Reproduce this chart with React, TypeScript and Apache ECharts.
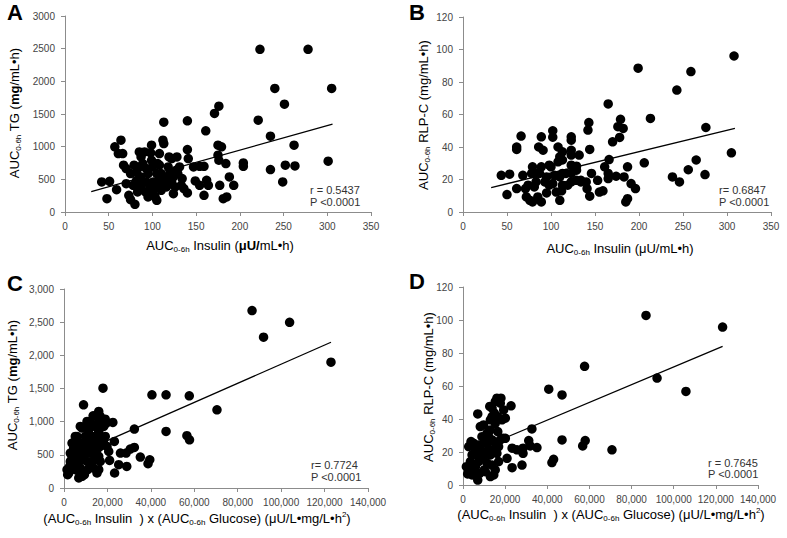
import React, { useEffect, useRef } from "react";
import * as echarts from "echarts";

// ---------- Data ----------
const xTicksInsulin = [0, 50, 100, 150, 200, 250, 300, 350];
const xTicksProduct = [0, 20000, 40000, 60000, 80000, 100000, 120000, 140000];

const pointsA: number[][] = [
  [223,2490],[278,2490],[305,1891],[240,1891],[251,1651],[221,1405],[235,1160],[262,1022],[301,777],[235,649],[252,716],[263,705],[249,460],[204,751],[204,700],
  [176,1620],[171,1508],[140,1395],[113,1375],[161,1242],[175,1022],[179,997],[140,956],[141,818],[154,700],[159,700],[175,869],[176,792],[184,741],[188,537],[193,409],[185,230],[181,204],[162,486],[164,409],[159,256],[154,409],[149,475],[134,511],[136,358],[140,291],[177,409],
  [42,460],[51,470],[48,204],[59,342],[57,997],[61,894],[64,1099],[66,894],[67,716],[70,434],[73,256],[75,189],[80,118],[78,409],[82,486],[82,613],[79,716],[85,920],[87,843],[85,690],[87,537],[92,307],[95,230],[98,905],[99,1022],[99,792],[100,690],[101,460],[103,230],[105,179],[105,383],[108,894],[108,716],[110,588],[112,1099],[113,1048],[113,434],[116,383],[118,690],[119,843],[122,818],[124,537],[126,383],[127,639],[128,843],[129,588],[131,690],[89,741],[93,664],[95,588],[105,588],[108,511],[114,537],[118,486],[122,460],[70,664],[75,588],[91,920],[106,741],[120,588],[97,383],[110,332],[83,307],[87,409],[100,307],[133,409],[147,690],[124,281],[93,460]
];
const trendA: number[][] = [[30, 310], [306, 1344]];

const pointsB: number[][] = [
  [308,96],[259,86.4],[243,75],[199,88.5],[165,66.5],[213,57.6],[276,52],[179,57],[182,51.4],[176,52.5],[178,45.9],[170,43.2],[305,36.4],[206,30.3],[166,32.3],[161,27.8],[165,23.7],[165,20.6],[174,22],[183,21.6],[187,27.8],[191,17.5],[196,14.4],[187,8.2],[185,6.2],[238,21.6],[246,18.5],[256,26],[265,32],[275,23],
  [143,55],[142,50.4],[144,38.5],[144,9.7],[140,18.5],[141,14.4],[159,13],[155,12.3],[132,35],[134,19.5],[123,46.3],[123,44.2],[123,38],[123,35],[123,28.8],[123,23.7],[123,18.5],[129,28.2],[129,25.7],[113,37],[110,34],[113,23.7],[113,16.5],[112,13],[110,7.2],[108,30.9],[102,50],[102,46],[100,27.8],[98,28.8],[95,21.6],[89,27.8],[89,46.3],[86,40],[91,38],[83,23.7],[83,18.5],[81,15.4],[79,6.2],[76,7.2],[89,6.2],[85,9.3],[95,11.7],[98,16.5],[102,17.5],[79,27.8],[78,23.7],[74,16.5],[71,14.4],[68,22.6],[66,46.7],[61,40],[61,38.5],[61,14.4],[53,23.3],[43.5,22.6],[50,10.7],[108,40],[113,32],[117,23.7],[129,19.5],[134,18.5],[110,21.6],[104,22.6],[87,23.7],[93,18.5],[106,12.3],[119,16.5],[146,23.7],[153,19.5],[72,9.3]
];
const trendB: number[][] = [[32, 15], [309, 51.5]];

const pointsC: number[][] = [
  [86600,2674],[91900,2273],[103900,2498],[122950,1896],[70450,1179],[57700,1390],[47000,1405],[40500,1405],[47000,853],[56600,788],[57800,727],[35150,467],[39500,426],[38700,366],[32400,612],[32400,888],[30500,587],[28600,527],[26000,527],[28900,326],[25200,351],[21000,416],[23300,226],[23200,702],[22500,988],[17960,1505],[9000,1254],[19000,1038],[18300,928],[16700,1079],[15200,1104],[13400,1089],[16000,1003],[14400,928],[12900,928],[9800,928],[7500,928],[6000,778],[11400,828],[13700,778],[16000,853],[19000,778],[18300,677],[16700,627],[15200,577],[16000,477],[16700,401],[16000,276],[15200,226],[13700,301],[14400,426],[11400,527],[9800,627],[8300,677],[7500,552],[8700,426],[7500,301],[8300,176],[6800,151],[5200,276],[4450,376],[3700,477],[2900,527],[2600,326],[2150,226],[1700,200],[3700,677],[5200,778],[6000,627],[4450,602],[6300,502],[9800,778],[11400,727],[12100,627],[12900,527],[12900,401],[10600,401],[9000,502],[8300,903],[10600,1003],[12100,1003],[14400,702],[12100,326],[10900,276],[9400,200],[7200,176],[16700,727],[19500,978],[16000,1154],[19800,627],[20600,552],[5700,702],[2900,401],[1400,276],[6800,401]
];
const trendC: number[][] = [[9000, 557], [122950, 2197]];

const pointsD: number[][] = [
  [86850,102.8],[123200,95.7],[92100,64.8],[105800,56.7],[57700,71.9],[40700,58.1],[47000,54.6],[70700,21.3],[58000,26.9],[56800,23.7],[47000,27.3],[43000,15.6],[42200,13.6],[35100,22.7],[32700,34],[31200,26.9],[31900,23.7],[28500,22.3],[28500,19.2],[28000,12.1],[25600,21.3],[23300,22.3],[23300,10.5],[20900,16.2],[22800,48],[19300,45.5],[18000,52.6],[16100,52.6],[15300,50.6],[13800,46.6],[12700,47.6],[18500,39.5],[19000,28.3],[17700,27.3],[16500,32.4],[15300,37.4],[13800,41.5],[13000,33.4],[12200,29.3],[11400,25.3],[9800,36.4],[8200,35.4],[7000,43.1],[9000,29.3],[7400,24.3],[5900,21.3],[5100,25.3],[3800,26.3],[4300,18.2],[3500,14.2],[2700,9.1],[2200,6.7],[5900,11.1],[7000,3],[7900,7.1],[10100,9.1],[11400,13.2],[13000,18.2],[13800,12.1],[15300,9.1],[14600,6.1],[16900,14.2],[16100,19.2],[14600,21.3],[12200,21.3],[10600,18.2],[9000,17.2],[7400,14.2],[6300,18.2],[5100,9.1],[4300,6.1],[9500,20.2],[11400,31.4],[13800,27.3],[15300,25.3],[16900,23.3],[20100,28.3],[13000,39.5],[14900,43.5],[16500,41.5],[20100,40.5],[17700,49.6],[10600,8.1],[13000,5.1],[2700,23.3],[1600,11.1],[8200,21.3],[9800,25.3]
];
const trendD: number[][] = [[12000, 24.3], [123200, 84]];

const statsA = ["r = 0.5437", "P <0.0001"];
const statsB = ["r= 0.6847", "P <0.0001"];
const statsC = ["r= 0.7724", "P <0.0001"];
const statsD = ["r = 0.7645", "P <0.0001"];

const FONT = "'Liberation Sans', Arial, sans-serif";

const rich = {
  n: { fontSize: 13, lineHeight: 16, fontFamily: FONT, color: "#222", verticalAlign: "middle" },
  b: { fontSize: 13, lineHeight: 16, fontFamily: FONT, color: "#222", fontWeight: "bold", verticalAlign: "middle" },
  s: { fontSize: 8, lineHeight: 8, fontFamily: FONT, color: "#222", verticalAlign: "bottom" },
  p: { fontSize: 8, lineHeight: 8, fontFamily: FONT, color: "#222", verticalAlign: "top" },
};

const fmtComma = (v: number) => v.toLocaleString("en-US");
const fmtPlain = (v: number) => String(v);

function axisCommon(extra: any) {
  return {
    type: "value",
    axisLine: { show: true, lineStyle: { color: "#8c8c8c", width: 1 } },
    axisTick: { show: true, length: 4, lineStyle: { color: "#8c8c8c" } },
    splitLine: { show: false },
    axisLabel: { color: "#444", fontSize: 10, fontFamily: FONT, margin: 9, formatter: fmtPlain },
    ...extra,
  };
}

function titleText(x: number, y: number, text: string, rotate = false) {
  return {
    type: "text",
    x,
    y,
    rotation: rotate ? Math.PI / 2 : 0,
    style: { text, rich, align: "center", verticalAlign: "middle" },
  };
}

function letter(x: number, y: number, text: string) {
  return {
    type: "text",
    x,
    y,
    style: {
      text,
      font: `bold 22px ${FONT}`,
      fill: "#000",
      align: "center",
      verticalAlign: "middle",
    },
  };
}

function stats(x: number, y1: number, y2: number, lines: string[]) {
  return [lines[0], lines[1]].map((t, i) => ({
    type: "text",
    x,
    y: i === 0 ? y1 : y2,
    style: { text: t, font: `11px ${FONT}`, fill: "#333", align: "left", verticalAlign: "middle" },
  }));
}

export default function App() {
  const ref = useRef<HTMLDivElement>(null);

  useEffect(() => {
    document.body.style.margin = "0";
    if (!ref.current) return;
    const chart = echarts.init(ref.current, null, { renderer: "svg" });

    const scatter = (data: number[][], i: number) => ({
      type: "scatter",
      xAxisIndex: i,
      yAxisIndex: i,
      data,
      symbolSize: 9.5,
      itemStyle: { color: "#000", opacity: 1 },
      silent: true,
    });
    const trend = (data: number[][], i: number) => ({
      type: "line",
      xAxisIndex: i,
      yAxisIndex: i,
      data,
      showSymbol: false,
      symbol: "none",
      lineStyle: { color: "#000", width: 1.3 },
      silent: true,
      z: 3,
    });

    const labelY = (fmt: (v: number) => string) => ({ color: "#444", fontSize: 10, fontFamily: FONT, margin: 10, formatter: fmt });

    const insX = (gi: number) =>
      axisCommon({ gridIndex: gi, min: xTicksInsulin[0], max: xTicksInsulin[xTicksInsulin.length - 1], interval: 50 });
    const prodX = (gi: number) =>
      axisCommon({
        gridIndex: gi,
        min: xTicksProduct[0],
        max: xTicksProduct[xTicksProduct.length - 1],
        interval: 20000,
        axisLabel: { color: "#444", fontSize: 10, fontFamily: FONT, margin: 9, formatter: fmtComma },
      });

    chart.setOption({
      animation: false,
      backgroundColor: "#fff",
      grid: [
        { left: 65, top: 16, width: 306, height: 196 },
        { left: 463, top: 17, width: 308, height: 195 },
        { left: 64, top: 289, width: 304, height: 199 },
        { left: 463, top: 287, width: 295, height: 198 },
      ],
      xAxis: [insX(0), insX(1), prodX(2), prodX(3)],
      yAxis: [
        axisCommon({ gridIndex: 0, min: 0, max: 3000, interval: 500, axisLabel: labelY(fmtPlain) }),
        axisCommon({ gridIndex: 1, min: 0, max: 120, interval: 20, axisLabel: labelY(fmtPlain) }),
        axisCommon({ gridIndex: 2, min: 0, max: 3000, interval: 500, axisLabel: labelY(fmtComma) }),
        axisCommon({ gridIndex: 3, min: 0, max: 120, interval: 20, axisLabel: labelY(fmtPlain) }),
      ],
      series: [
        scatter(pointsA, 0), trend(trendA, 0),
        scatter(pointsB, 1), trend(trendB, 1),
        scatter(pointsC, 2), trend(trendC, 2),
        scatter(pointsD, 3), trend(trendD, 3),
      ],
      graphic: [
        letter(15, 12, "A"),
        letter(417, 12, "B"),
        letter(15, 283, "C"),
        letter(417, 281, "D"),
        titleText(220, 245, "{n|AUC}{s|0-6h}{n| Insulin (}{b|μU/}{n|mL•h)}"),
        titleText(14, 113, "{n|AUC}{s|0-6h}{n| TG (}{b|mg}{n|/mL•h)}", true),
        titleText(620, 248, "{n|AUC}{s|0-6h}{n| Insulin (μU/mL•h)}"),
        titleText(423, 115, "{n|AUC}{s|0-6h}{n| RLP-C (mg/mL•h)}", true),
        titleText(197, 518, "{n|(AUC}{s|0-6h}{n| Insulin  ) x (AUC}{s|0-6h}{n| Glucose) (μU/L•mg/L•h}{p|2}{n|)}"),
        titleText(12, 385, "{n|AUC}{s|0-6h}{n| TG (}{b|mg}{n|/mL•h)}", true),
        titleText(611, 514, "{n|(AUC}{s|0-6h}{n| Insulin  ) x (AUC}{s|0-6h}{n| Glucose) (μU/L•mg/L•h}{p|2}{n|)}"),
        titleText(428, 387, "{n|AUC}{s|0-6h}{n| RLP-C (mg/mL•h)}", true),
        ...stats(310, 190, 202, statsA),
        ...stats(719, 190, 202, statsB),
        ...stats(311, 465, 477, statsC),
        ...stats(708, 463, 474, statsD),
      ],
    });

    return () => chart.dispose();
  }, []);

  return <div ref={ref} style={{ width: 787, height: 538 }} />;
}
